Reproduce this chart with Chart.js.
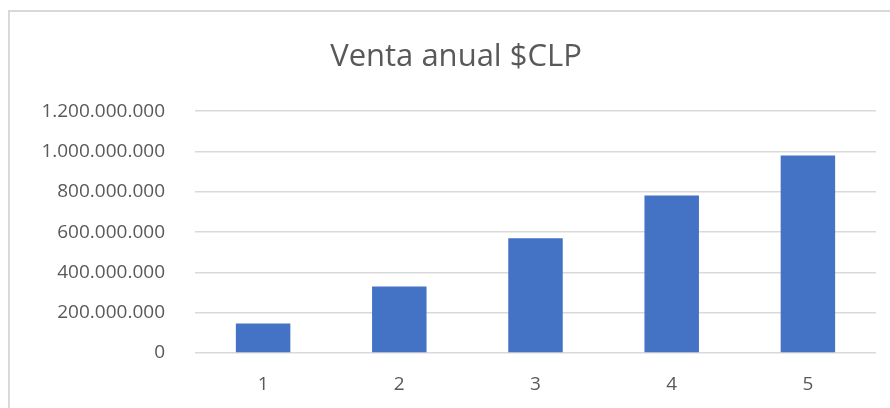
<!DOCTYPE html>
<html>
<head>
<meta charset="utf-8">
<script src="https://cdn.jsdelivr.net/npm/chart.js@4"></script>
<style>
    html, body { margin: 0; padding: 0; background: #fff; overflow: hidden; }
    #frame {
        position: absolute; left: 8px; top: 10px; width: 900px; height: 420px;
        border-left: 2px solid #d9d9d9; border-top: 2px solid #d9d9d9;
    }
    #wrap { position: absolute; left: 0; top: 0; width: 890px; height: 408px; }
</style>
</head>
<body>
<div id="frame"></div>
<div id="wrap"><canvas id="chart" width="890" height="408"></canvas></div>
<script>
const categories = ['1', '2', '3', '4', '5'];
const ventaAnual = [147000000, 330000000, 569000000, 782000000, 980000000];
const yTicks = [0, 200000000, 400000000, 600000000, 800000000, 1000000000, 1200000000];

const ctx = document.getElementById('chart').getContext('2d');

/**
 * Formats a number with dots as thousand separators
 */
function formatCLP(value) {
    return String(Math.round(value)).replace(/\B(?=(\d{3})+(?!\d))/g, '.');
}

Chart.defaults.font.family = "'Open Sans', sans-serif";
Chart.defaults.color = '#595959';

const chartConfig = {
    type: 'bar',
    data: {
        labels: categories,
        datasets: [
            {
                label: 'Venta anual',
                data: ventaAnual,
                backgroundColor: '#4472C4',
                barPercentage: 0.4,
                categoryPercentage: 1
            }
        ]
    },
    options: {
        responsive: false,
        animation: false,
        layout: {
            padding: { left: 36, right: 14, top: 0, bottom: 0 }
        },
        plugins: {
            legend: { display: false },
            tooltip: { enabled: false },
            title: {
                display: true,
                text: 'Venta anual $CLP',
                color: '#595959',
                font: { size: 31, weight: 'normal' },
                padding: { top: 39, bottom: 35 }
            }
        },
        scales: {
            x: {
                grid: { display: false, drawTicks: false },
                border: { display: false },
                ticks: { padding: 20, font: { size: 19 }, color: '#595959' },
                afterFit: scale => { scale.height = 55; }
            },
            y: {
                min: 0,
                max: 1200000000,
                afterBuildTicks: scale => { scale.ticks = yTicks.map(v => ({ value: v })); },
                grid: { color: '#d9d9d9', lineWidth: 1.5, drawTicks: false },
                border: { display: false },
                ticks: {
                    padding: 30,
                    font: { size: 19 },
                    color: '#595959',
                    callback: value => formatCLP(value)
                },
                afterFit: scale => { scale.width = 159; }
            }
        }
    }
};

const chart = new Chart(ctx, chartConfig);
</script>
</body>
</html>
